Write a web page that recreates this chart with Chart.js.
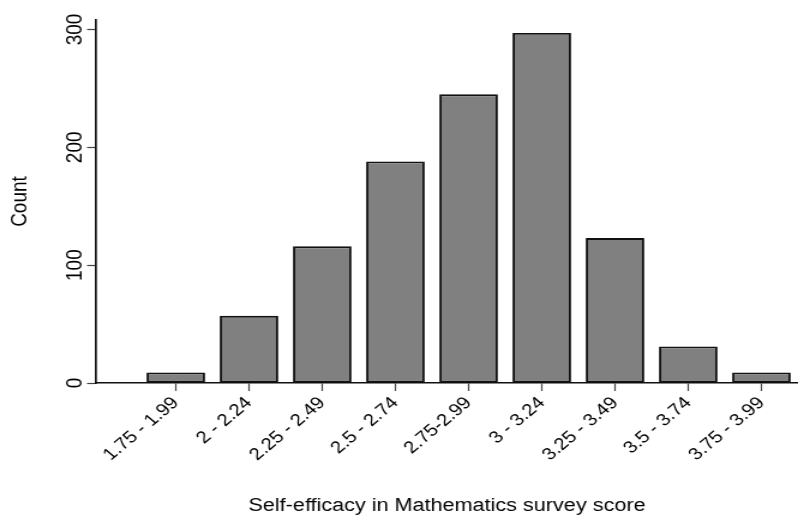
<!DOCTYPE html>
<html>
<head>
<meta charset="utf-8">
<script src="https://cdn.jsdelivr.net/npm/chart.js@4.4.1/dist/chart.umd.min.js"></script>
<style>
  html, body { margin: 0; padding: 0; background: #fff; overflow: hidden; }
  /* reference is stretched ~1.2x sideways, so draw narrower and stretch it */
  #wrap { width: 665px; height: 515px; transform: scale(1.2, 1); transform-origin: 0 0; }
</style>
</head>
<body>
<div id="wrap"><canvas id="histChart"></canvas></div>
<script>
const scoreBins = ['1.75 - 1.99', '2 - 2.24', '2.25 - 2.49', '2.5 - 2.74', '2.75-2.99',
                   '3 - 3.24', '3.25 - 3.49', '3.5 - 3.74', '3.75 - 3.99'];
const counts = [9, 57, 116, 188, 245, 297, 123, 31, 9];
const countTicks = [0, 100, 200, 300];

Chart.defaults.font.family = '"Liberation Sans", Arial, sans-serif';
Chart.defaults.color = '#000';

const ctx = document.getElementById('histChart').getContext('2d');
new Chart(ctx, {
    type: 'bar',
    data: {
        datasets: [{
            label: 'Count',
            data: counts.map((v, i) => ({ x: i, y: v })),
            backgroundColor: '#808080',
            borderColor: '#111',
            borderWidth: 1.9,
            borderSkipped: false,
            barPercentage: 0.8,
            categoryPercentage: 1
        }]
    },
    options: {
        responsive: true,
        maintainAspectRatio: false,
        animation: false,
        layout: { padding: { top: 20, left: 0, right: 0, bottom: 0 } },
        plugins: {
            legend: { display: false },
            tooltip: { enabled: false }
        },
        scales: {
            x: {
                type: 'linear',
                min: -1.09,
                max: 8.5,
                offset: false,
                afterBuildTicks: function (scale) {
                    scale.ticks = scoreBins.map((b, i) => ({ value: i }));
                },
                afterFit: function (scale) { scale.height = 132; },
                grid: {
                    display: true,
                    offset: false,
                    drawOnChartArea: false,
                    drawTicks: true,
                    tickLength: 8,
                    tickColor: '#444',
                    tickWidth: 1.2
                },
                border: { display: true, color: '#111', width: 1.5 },
                ticks: {
                    autoSkip: false,
                    minRotation: 45,
                    maxRotation: 45,
                    padding: 2,
                    font: { size: 17 },
                    callback: function (value) { return scoreBins[value]; }
                },
                title: {
                    display: true,
                    text: 'Self-efficacy in Mathematics survey score',
                    font: { size: 18, lineHeight: 1.05 },
                    padding: { top: 0, bottom: 0 }
                }
            },
            y: {
                min: 0,
                max: 308,
                afterBuildTicks: function (scale) {
                    scale.ticks = countTicks.map(v => ({ value: v }));
                },
                afterFit: function (scale) { scale.width = 80; },
                grid: {
                    display: true,
                    drawOnChartArea: false,
                    drawTicks: true,
                    tickLength: 7.5,
                    tickColor: '#444',
                    tickWidth: 1.2
                },
                border: { display: true, color: '#111', width: 1.7 },
                ticks: {
                    minRotation: 90,
                    maxRotation: 90,
                    crossAlign: 'center',
                    padding: -6,
                    font: { size: 19 }
                },
                title: {
                    display: true,
                    text: 'Count',
                    font: { size: 19, lineHeight: 1.2 },
                    padding: { top: 5, bottom: 0 }
                }
            }
        }
    }
});
</script>
</body>
</html>
